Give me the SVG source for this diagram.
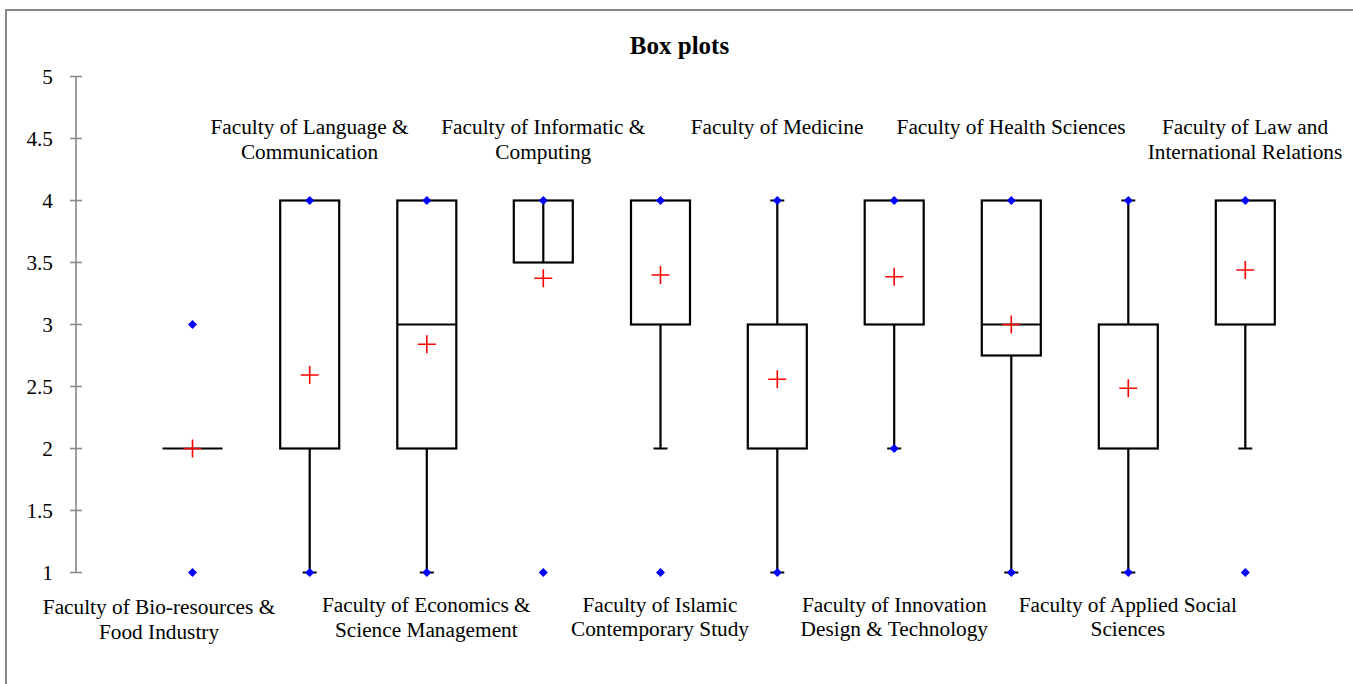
<svg xmlns="http://www.w3.org/2000/svg" width="1353" height="684" viewBox="0 0 1353 684">
<style>
.lbl{font-family:"Liberation Serif","Times New Roman",serif;font-size:21.3px;fill:#000;text-anchor:middle}
.tk{font-family:"Liberation Serif","Times New Roman",serif;font-size:21.3px;fill:#000;text-anchor:end}
.ttl{font-family:"Liberation Serif","Times New Roman",serif;font-size:25px;font-weight:bold;fill:#000;text-anchor:middle}
.box{fill:none;stroke:#000;stroke-width:2.2}
.wk{stroke:#000;stroke-width:2.2;fill:none}
.ax{stroke:#868686;stroke-width:1.6;fill:none}
</style>
<defs>
<path id="dm" d="M0,-4.5L4.5,0L0,4.5L-4.5,0Z" fill="#0000FF"/>
<path id="mn" d="M-9,0H9M0,-9V9" stroke="#FF0000" stroke-width="1.6" fill="none"/>
</defs>
<rect x="0" y="0" width="1353" height="684" fill="#fff"/>
<rect x="6" y="10" width="1360" height="700" fill="none" stroke="#878787" stroke-width="2"/>
<text class="ttl" x="679.5" y="54">Box plots</text>
<g id="axis">
<path class="ax" d="M76,76.5V572.5M70,76.5H82M70,138.5H82M70,200.5H82M70,262.5H82M70,324.5H82M70,386.5H82M70,448.5H82M70,510.5H82M70,572.5H82"/>
<text class="tk" x="53" y="83.5">5</text>
<text class="tk" x="53" y="145.5">4.5</text>
<text class="tk" x="53" y="207.5">4</text>
<text class="tk" x="53" y="269.5">3.5</text>
<text class="tk" x="53" y="331.5">3</text>
<text class="tk" x="53" y="393.5">2.5</text>
<text class="tk" x="53" y="455.5">2</text>
<text class="tk" x="53" y="517.5">1.5</text>
<text class="tk" x="53" y="579.5">1</text>
</g>
<g id="connectors">
<path class="wk" d="M309.7,448.5V572.5M302.7,572.5H316.7"/>
<path class="wk" d="M426.8,448.5V572.5M419.8,572.5H433.8"/>
<path class="wk" d="M660.5,324.5V448.5M653.5,448.5H667.5"/>
<path class="wk" d="M777.3,324.5V200.5M770.3,200.5H784.3M777.3,448.5V572.5M770.3,572.5H784.3"/>
<path class="wk" d="M894.2,324.5V448.5M887.2,448.5H901.2"/>
<path class="wk" d="M1011.3,355.5V572.5M1004.3,572.5H1018.3"/>
<path class="wk" d="M1128.3,324.5V200.5M1121.3,200.5H1135.3M1128.3,448.5V572.5M1121.3,572.5H1135.3"/>
<path class="wk" d="M1245.3,324.5V448.5M1238.3,448.5H1252.3"/>
</g>
<g id="n1">
<path class="wk" d="M162.5,448.5H222.5"/>
<use href="#dm" x="192.5" y="324.5"/><use href="#dm" x="192.5" y="572.5"/>
<use href="#mn" x="192.5" y="448.5"/>
<text class="lbl" x="159" y="613.5">Faculty of Bio-resources &amp;</text>
<text class="lbl" x="159" y="638.5">Food Industry</text>
</g>
<g id="n2">
<rect class="box" x="280.2" y="200.5" width="59" height="248"/>
<use href="#dm" x="309.7" y="200.5"/><use href="#dm" x="309.7" y="572.5"/>
<use href="#mn" x="309.7" y="375"/>
<text class="lbl" x="309.5" y="134">Faculty of Language &amp;</text>
<text class="lbl" x="309.5" y="159">Communication</text>
</g>
<g id="n3">
<rect class="box" x="397.3" y="200.5" width="59" height="248"/>
<path class="wk" d="M397.3,324.5H456.3"/>
<use href="#dm" x="426.8" y="200.5"/><use href="#dm" x="426.8" y="572.5"/>
<use href="#mn" x="426.8" y="344.3"/>
<text class="lbl" x="426.3" y="611.5">Faculty of Economics &amp;</text>
<text class="lbl" x="426.3" y="636.5">Science Management</text>
</g>
<g id="n4">
<rect class="box" x="513.8" y="200.5" width="59" height="62"/>
<path class="wk" d="M543.3,200.5V262.5"/>
<use href="#dm" x="543.3" y="200.5"/><use href="#dm" x="543.3" y="572.5"/>
<use href="#mn" x="543.3" y="278.3"/>
<text class="lbl" x="543.3" y="134">Faculty of Informatic &amp;</text>
<text class="lbl" x="543.3" y="158.5">Computing</text>
</g>
<g id="n5">
<rect class="box" x="631" y="200.5" width="59" height="124"/>
<use href="#dm" x="660.5" y="200.5"/><use href="#dm" x="660.5" y="572.5"/>
<use href="#mn" x="660.5" y="275"/>
<text class="lbl" x="660" y="611.5">Faculty of Islamic</text>
<text class="lbl" x="660" y="636">Contemporary Study</text>
</g>
<g id="n6">
<rect class="box" x="747.8" y="324.5" width="59" height="124"/>
<use href="#dm" x="777.3" y="200.5"/><use href="#dm" x="777.3" y="572.5"/>
<use href="#mn" x="777.3" y="379.3"/>
<text class="lbl" x="777" y="134">Faculty of Medicine</text>
</g>
<g id="n7">
<rect class="box" x="864.7" y="200.5" width="59" height="124"/>
<use href="#dm" x="894.2" y="200.5"/><use href="#dm" x="894.2" y="448.5"/>
<use href="#mn" x="894.2" y="276.7"/>
<text class="lbl" x="894.3" y="611.5">Faculty of Innovation</text>
<text class="lbl" x="894.3" y="636">Design &amp; Technology</text>
</g>
<g id="n8">
<rect class="box" x="981.8" y="200.5" width="59" height="155"/>
<path class="wk" d="M981.8,324.5H1040.8"/>
<use href="#dm" x="1011.3" y="200.5"/><use href="#dm" x="1011.3" y="572.5"/>
<use href="#mn" x="1011.3" y="324.5"/>
<text class="lbl" x="1011" y="134">Faculty of Health Sciences</text>
</g>
<g id="n9">
<rect class="box" x="1098.8" y="324.5" width="59" height="124"/>
<use href="#dm" x="1128.3" y="200.5"/><use href="#dm" x="1128.3" y="572.5"/>
<use href="#mn" x="1128.3" y="388.3"/>
<text class="lbl" x="1127.8" y="611.5">Faculty of Applied Social</text>
<text class="lbl" x="1127.8" y="635.5">Sciences</text>
</g>
<g id="n10">
<rect class="box" x="1215.8" y="200.5" width="59" height="124"/>
<use href="#dm" x="1245.3" y="200.5"/><use href="#dm" x="1245.3" y="572.5"/>
<use href="#mn" x="1245.3" y="270"/>
<text class="lbl" x="1245" y="134">Faculty of Law and</text>
<text class="lbl" x="1245" y="159">International Relations</text>
</g>
</svg>
